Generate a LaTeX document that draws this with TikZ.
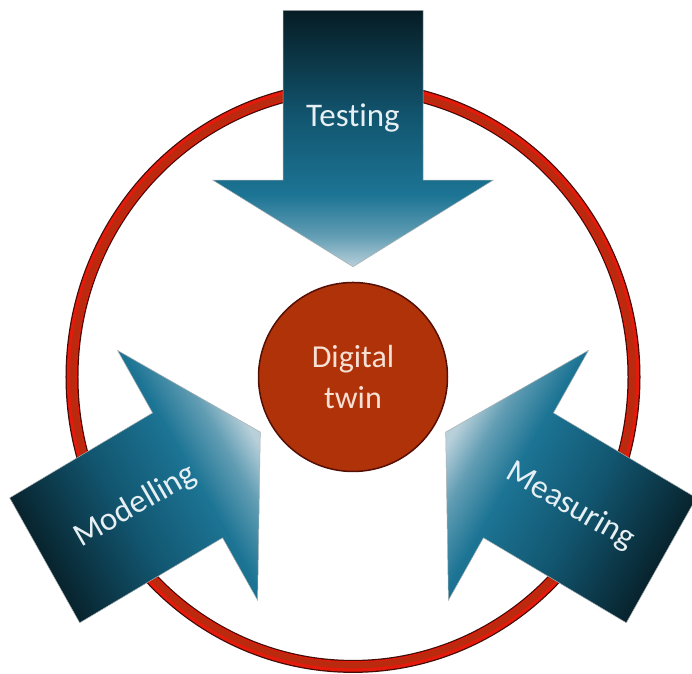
\documentclass[tikz,border=0pt]{standalone}
\usepackage{fontspec}
\setmainfont{Carlito}[Ligatures=NoCommon]
\definecolor{taildark}{RGB}{6,28,36}
\definecolor{midteal}{RGB}{18,86,112}
\definecolor{headteal}{RGB}{28,116,148}
\definecolor{tiplight}{RGB}{184,208,218}
\definecolor{ringdark}{RGB}{66,12,6}
\definecolor{ringred}{RGB}{228,26,12}
\definecolor{ringbrick}{RGB}{186,42,14}
\definecolor{twinred}{RGB}{176,50,8}
\definecolor{twinedge}{RGB}{84,16,6}
\definecolor{twintext}{RGB}{247,224,212}
\definecolor{arrowtext}{RGB}{230,240,244}
\usetikzlibrary{positioning}

\pgfdeclareverticalshading{arrowfade}{100bp}{color(0bp)=(tiplight); color(25bp)=(tiplight);
  color(31bp)=(headteal!55!tiplight); color(39bp)=(headteal); color(54bp)=(midteal);
  color(75bp)=(taildark); color(100bp)=(taildark)}

\tikzset{
  inarrow/.style={shading=arrowfade, draw=taildark!35!white, line width=0.5pt},
  arrowlabel/.style={text=arrowtext, inner sep=0pt, font=\fontsize{33}{40}\selectfont},
  twin/.style={circle, fill=twinred, draw=twinedge, line width=1.5pt, minimum size=189pt,
               inner sep=0pt, align=center, text=twintext, font=\fontsize{32}{41}\selectfont},
}

\begin{document}
\begin{tikzpicture}[x=1pt, y=1pt, yscale=1.03]
  \useasboundingbox (-353,-288.3) rectangle (339,366);

  % outer ring
  \draw[ringdark, line width=13pt] (0,0) circle[radius=281];
  \draw[ringred, line width=10.5pt] (0,0) circle[radius=281];
  \draw[ringbrick, line width=6pt] (0,0) circle[radius=280];

  \node[twin] (twin) at (0,0) {Digital\\twin};

  % the three inputs point at the twin
  \foreach \ang in {0,120,-120}
    \path[inarrow, rotate=\ang, shading angle=\ang]
      (-70,356) -- (70,356) -- (70,191) -- (140,191) -- (0,107) -- (-140,191) -- (-70,191) -- cycle;

  \node[arrowlabel] (testing) at (90:251) {Testing};
  \node[arrowlabel, rotate=30] (modelling) at (210:251) {Modelling};
  \node[arrowlabel, rotate=-30] (measuring) at (330:251) {Measuring};
\end{tikzpicture}
\end{document}
